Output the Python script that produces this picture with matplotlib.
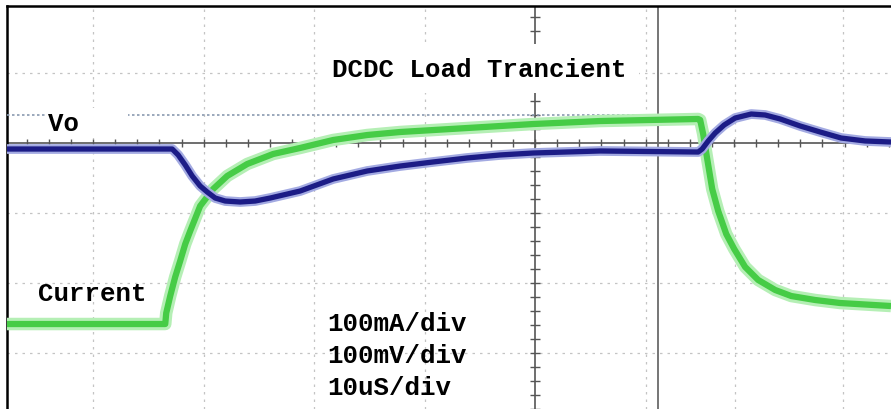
import matplotlib
matplotlib.use("Agg")
import matplotlib.pyplot as plt
import numpy as np

# time axis in us (10 us/div), vertical axis in divisions (0 = centre line)
current_t = [-47.8, -33.48, -33.39, -33.03, -32.58, -32.13, -31.67, -31.22, -30.32, -29.14,
             -27.87, -26.06, -23.71, -21.27, -18.28, -15.20, -12.22, -6.15, -0.18, 5.88,
             14.75, 14.93, 15.20, 15.57, 16.02, 16.56, 17.29, 18.01, 19.00, 20.18, 21.72,
             23.17, 25.34, 27.60, 32.2]
current_div = [-2.586, -2.586, -2.429, -2.186, -1.914, -1.686, -1.443, -1.257, -0.900, -0.657,
               -0.471, -0.300, -0.157, -0.071, 0.043, 0.114, 0.157, 0.214, 0.271, 0.314,
               0.343, 0.329, 0.129, -0.229, -0.657, -0.971, -1.300, -1.514, -1.771, -1.957, -2.100,
               -2.186, -2.243, -2.286, -2.329]

vo_t = [-47.8, -32.85, -32.31, -31.67, -31.04, -30.32, -29.68, -28.96, -28.05, -26.70,
        -25.34, -23.98, -21.27, -18.28, -15.20, -12.22, -9.23, -6.15, -3.17, -0.18, 5.88,
        14.75, 15.11, 15.66, 16.29, 17.10, 18.10, 19.55, 20.81, 22.17, 23.98, 25.79, 27.69,
        29.86, 32.2]
vo_div = [-0.086, -0.086, -0.171, -0.314, -0.471, -0.614, -0.700, -0.786, -0.829, -0.843,
          -0.829, -0.786, -0.686, -0.514, -0.400, -0.329, -0.271, -0.214, -0.171, -0.143, -0.114,
          -0.129, -0.086, 0.029, 0.143, 0.257, 0.357, 0.414, 0.400, 0.343, 0.243, 0.157, 0.071,
          0.029, 0.014]

grid_t = [-40, -30, -20, -10, 10, 18.1, 27.9]
grid_div = [1.0, -1.0, -2.0, -3.0]
cursor_t = 11.1
vo_ref_div = 0.4
vo_ref_end_t = 14.8

title = "DCDC Load Trancient"
scale_labels = ["100mA/div", "100mV/div", "10uS/div"]

W, H = 891, 410
fig = plt.figure(figsize=(W / 100, H / 100), dpi=100)
ax = fig.add_axes([7 / W, 0, 884 / W, 403 / H])
ax.set_xlim(-47.8, 32.2)
ax.set_ylim(-3.8, 1.957)

for s in ["right", "bottom"]:
    ax.spines[s].set_visible(False)
for s in ["left", "top"]:
    ax.spines[s].set_linewidth(1.8)
    ax.spines[s].set_color("black")
ax.set_xticks([])
ax.set_yticks([])

# graticule
for g in grid_t:
    ax.axvline(g, color="#c4c4c4", lw=0.9, ls=(0, (2, 4)), zorder=1)
for g in grid_div:
    ax.axhline(g, color="#c4c4c4", lw=0.9, ls=(0, (2, 4)), zorder=1)
ax.axhline(0, color="#555555", lw=1.2, zorder=2)
ax.axvline(0, color="#555555", lw=1.2, zorder=2)
minor_t = np.arange(-46, 32.1, 2)
minor_v = np.arange(-3.8, 1.96, 0.2)
ax.plot(minor_t, np.zeros_like(minor_t), ls="none", marker="|", ms=6, color="#555555", zorder=2)
ax.plot(np.zeros_like(minor_v), minor_v, ls="none", marker="_", ms=7, color="#555555", zorder=2)
ax.axvline(cursor_t, color="#6a6a6a", lw=1.3, zorder=2)

# Vo reference marker
ax.plot([-47.8, vo_ref_end_t], [vo_ref_div, vo_ref_div], color="#8a9ab0", lw=1.2,
        ls=(0, (1.5, 1.5)), zorder=3)

# traces
ax.plot(current_t, current_div, color="#b5efb5", lw=9, solid_capstyle="butt",
        solid_joinstyle="round", zorder=4)
ax.plot(current_t, current_div, color="#46cc46", lw=4.5, solid_capstyle="butt",
        solid_joinstyle="round", zorder=5)
ax.plot(vo_t, vo_div, color="#a3aae2", lw=7, solid_capstyle="butt",
        solid_joinstyle="round", zorder=6)
ax.plot(vo_t, vo_div, color="#1c1c86", lw=3.8, solid_capstyle="butt",
        solid_joinstyle="round", zorder=7)

font = dict(family="Liberation Mono", weight="bold", size=18.5, color="black")
ax.text(-18.4, 1.06, title, ha="left", va="center", zorder=10,
        bbox=dict(facecolor="white", edgecolor="none", pad=9), **font)
ax.text(-44.1, 0.29, "Vo   ", ha="left", va="center", zorder=10,
        bbox=dict(facecolor="white", edgecolor="none", pad=2), **font)
ax.text(-45.0, -2.14, "Current", ha="left", va="center", zorder=10, **font)
for i, lab in enumerate(scale_labels):
    ax.text(-18.8, -2.57 - 0.46 * i, lab, ha="left", va="center", zorder=10, **font)

fig.savefig("out.png", dpi=100)
